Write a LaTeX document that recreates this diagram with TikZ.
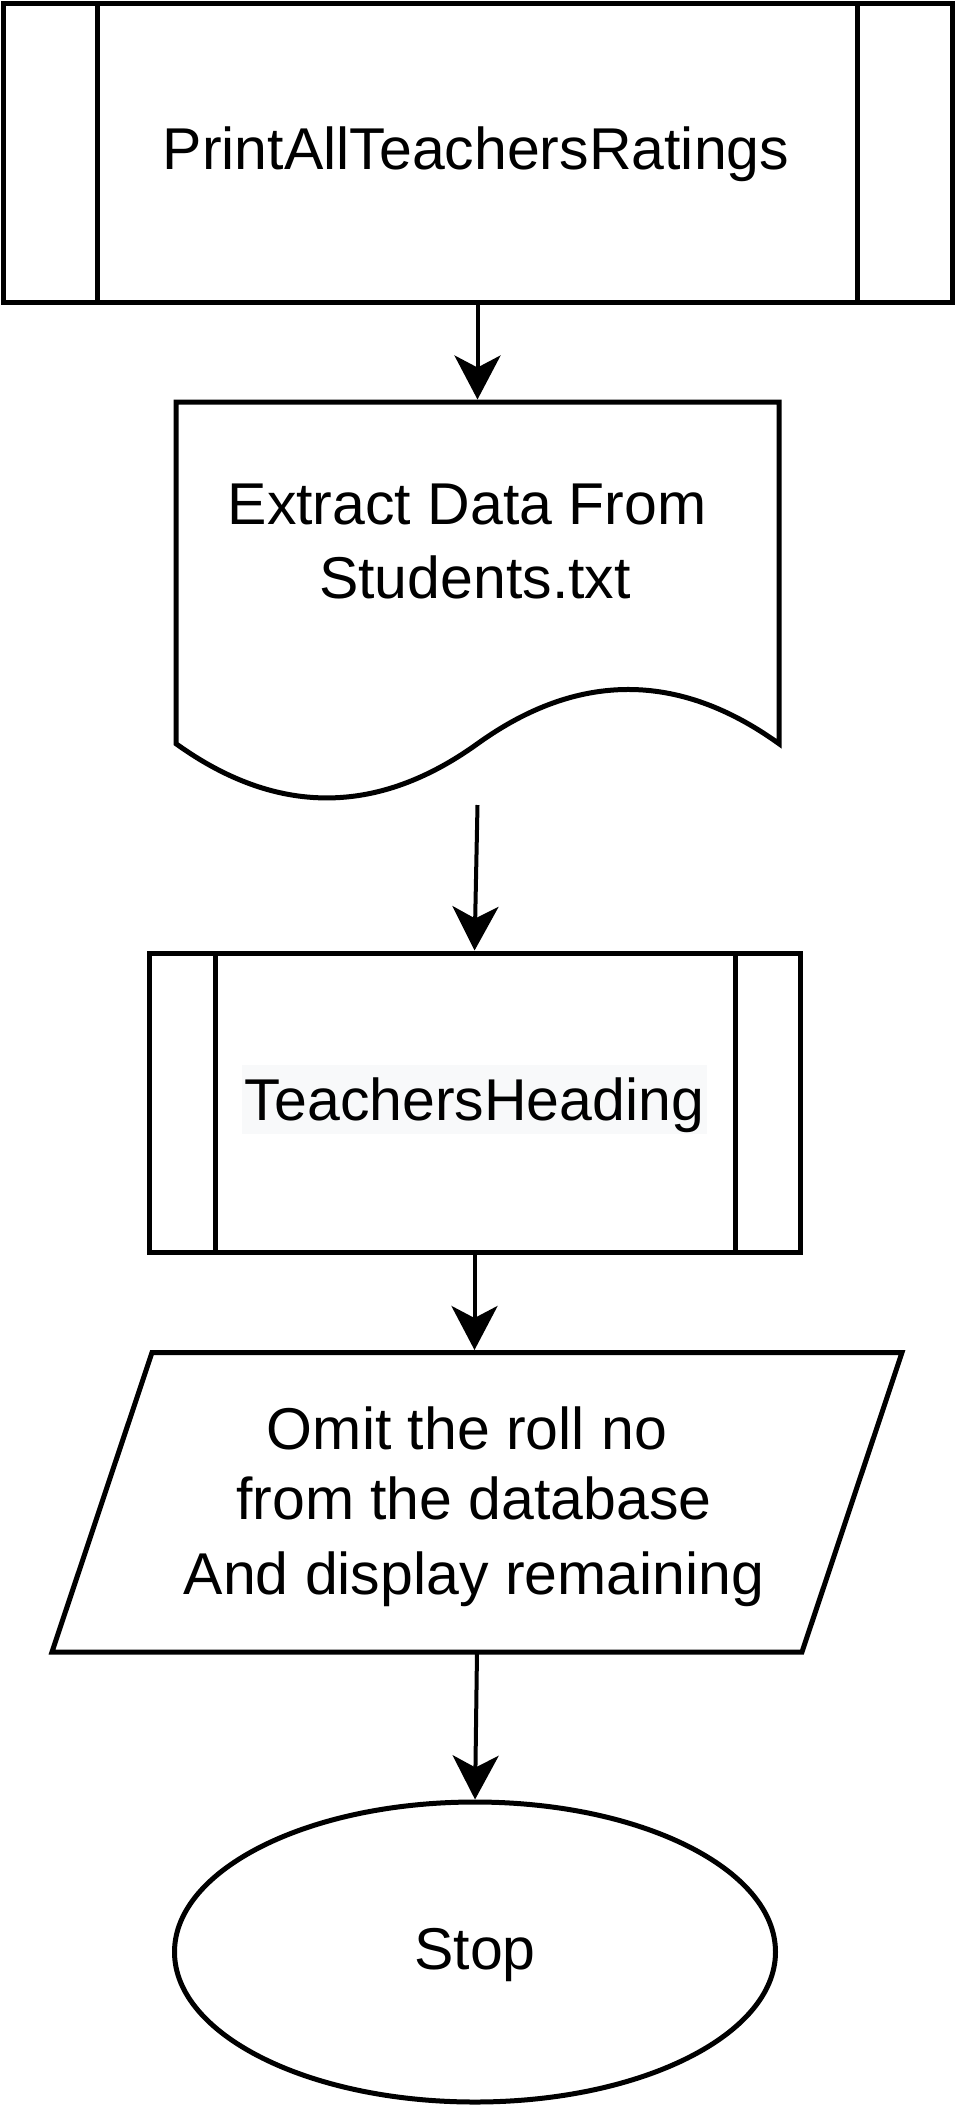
\documentclass[tikz,border=0pt]{standalone}
\usepackage{fontspec}
\setmainfont{Liberation Sans}
\usetikzlibrary{arrows.meta,shapes.geometric}
\definecolor{thbg}{HTML}{F8F9FA}
\tikzset{
  shapeline/.style={draw=black, line width=5pt, line join=miter},
  frame/.style={inner sep=0pt, outer sep=0pt},
  txt/.style={inner sep=0pt, anchor=base, font=\fontsize{59}{72}\selectfont},
  conn/.style={draw=black, line width=4pt, shorten >=2.5pt,
    -{Stealth[length=44pt,width=46pt,inset=12pt]}},
}
\begin{document}
\begin{tikzpicture}[x=1pt,y=-1pt]
\useasboundingbox[fill=white] (0,0) rectangle (955,2105);

% --- PrintAllTeachersRatings (predefined process)
\node[frame, shapeline, rectangle, minimum width=949pt, minimum height=299.5pt] (top) at (477.5,152.75) {};
\draw[shapeline] (97.5,3) -- (97.5,302.5);
\draw[shapeline] (857,3) -- (857,302.5);
\node[txt] (toptxt) at (476,169) {PrintAllTeachersRatings};

% --- Document shape
\node[frame, rectangle, minimum width=603pt, minimum height=402pt] (doc) at (477.5,603) {};
\draw[shapeline] (176,402) -- (779,402) -- (779,743.7)
  .. controls (678.5,671.4) and (578,671.4) .. (477.5,743.7)
  .. controls (377,816) and (276.5,816) .. (176,743.7) -- cycle;
\node[txt] (doctxta) at (467,524) {Extract Data From};
\node[txt] (doctxtb) at (475,598) {Students.txt};

% --- TeachersHeading (predefined process)
\node[frame, shapeline, rectangle, minimum width=651pt, minimum height=299.5pt] (th) at (474.5,1102.75) {};
\draw[shapeline] (215,953) -- (215,1252.5);
\draw[shapeline] (735,953) -- (735,1252.5);
\node[txt, fill=thbg, inner xsep=3pt, text height=55.7pt, text depth=13.3pt] (thtxt) at (474.5,1120.7) {TeachersHeading};

% --- Parallelogram (data)
\node[frame, rectangle, minimum width=850pt, minimum height=299.5pt] (par) at (477,1502.25) {};
\draw[shapeline] (152,1352.5) -- (902,1352.5) -- (802,1652) -- (52,1652) -- cycle;
\node[txt] (partxta) at (467,1449.3) {Omit the roll no};
\node[txt] (partxtb) at (474,1519.3) {from the database};
\node[txt] (partxtc) at (474,1594.3) {And display remaining};

% --- Stop (ellipse)
\node[frame, shapeline, ellipse, minimum width=601pt, minimum height=300pt] (stop) at (475,1952) {};
\node[txt] (stoptxt) at (475,1969) {Stop};

% --- Connectors
\draw[conn] (top.south) -- (doc.north);
\draw[conn] ([yshift=-1pt]doc.south) -- (th.north);
\draw[conn] (th.south) -- (th.south |- par.north);
\draw[conn] (par.south) -- (stop.north);
\end{tikzpicture}
\end{document}
